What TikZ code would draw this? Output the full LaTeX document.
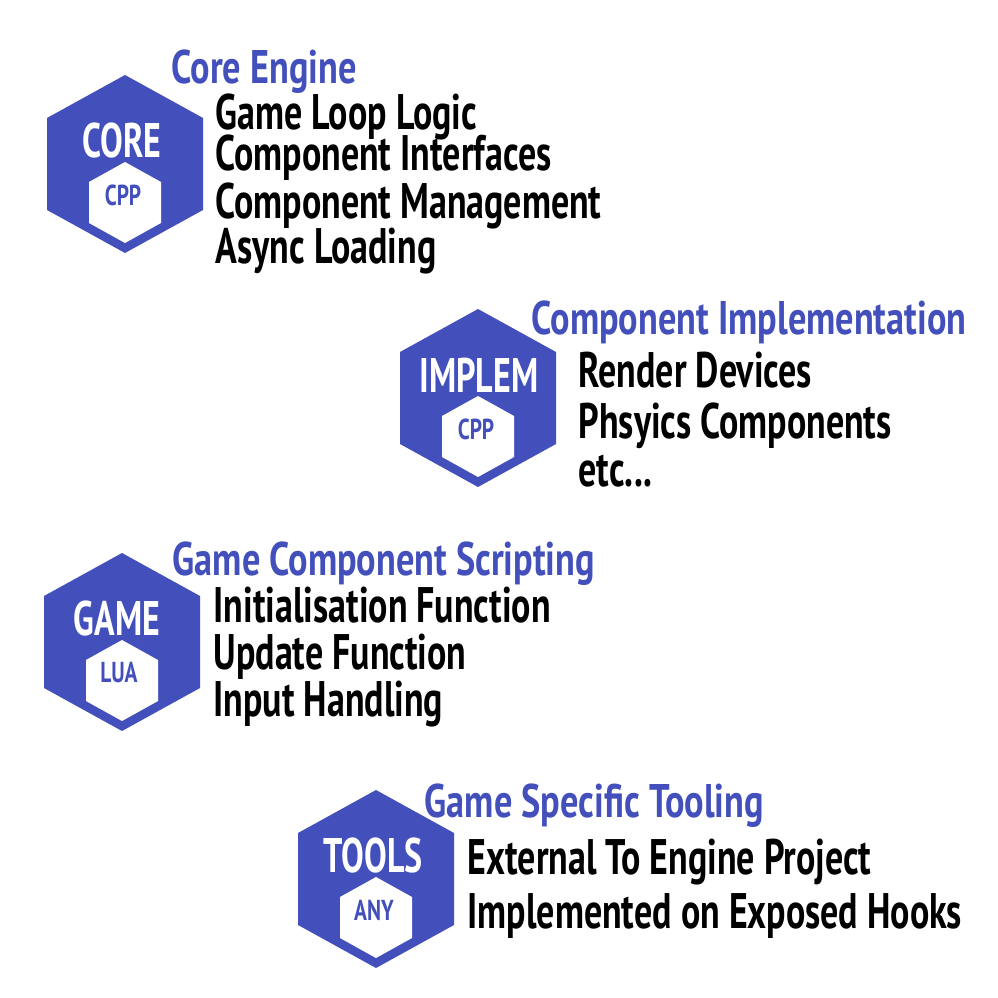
\documentclass[tikz,border=0pt]{standalone}
\usepackage{fontspec}
\newfontfamily\titlefont[FakeStretch=0.77]{PT Sans}
\newfontfamily\itemfont[FakeStretch=0.72]{PT Sans}
\newfontfamily\badgefont[FakeStretch=0.70]{PT Sans}
\newfontfamily\langfont[FakeStretch=0.74]{PT Sans}
\usetikzlibrary{positioning, calc}
\definecolor{hexblue}{RGB}{67,80,188}
\tikzstyle{title} = [text=hexblue, font=\titlefont\bfseries\fontsize{13.4}{13.4}\selectfont, anchor=base west, inner sep=0pt]
\tikzstyle{item} = [text=black, font=\itemfont\bfseries\fontsize{14.2}{14.2}\selectfont, anchor=base west, inner sep=0pt]
\tikzstyle{badge} = [text=white, font=\badgefont\bfseries\fontsize{13.8}{13.8}\selectfont, inner sep=0pt]
\tikzstyle{lang} = [text=hexblue, font=\langfont\bfseries\fontsize{8.2}{8.2}\selectfont, inner sep=0pt]
\newcommand{\hexmark}[7]{%
	\coordinate (#1) at (#2,#3);
	\fill[hexblue] ($(#1)+(0,89)$) -- ++(78,-43) -- ++(0,-92) -- ++(-78,-43) -- ++(-78,43) -- ++(0,92) -- cycle;
	\fill[white] ($(#1)+(0,2)$) -- ++(36,-20) -- ++(0,-41) -- ++(-36,-20) -- ++(-36,20) -- ++(0,41) -- cycle;
	\node[badge] (#1badge) at ($(#1)+(#6,23)$) {#4};
	\node[lang] (#1lang) at ($(#1)+(#7,-31)$) {#5};
}
\begin{document}
\begin{tikzpicture}[x=0.01cm,y=0.01cm]
	\useasboundingbox (0,0) rectangle (998,-998);
	\hexmark{core}{125}{-164}{CORE}{CPP}{-3}{-2}
	\hexmark{implem}{478}{-398}{IMPLEM}{CPP}{1}{-2}
	\hexmark{game}{122}{-642}{GAME}{LUA}{-5}{-3}
	\hexmark{tools}{376}{-879}{TOOLS}{ANY}{-3}{-2}
	\node[title] (coreTitle) at (171,-84) {Core Engine};
	\node[item] (core1) at (215,-130) {Game Loop Logic};
	\node[item] (core2) at (215,-171) {Component Interfaces};
	\node[item] (core3) at (215,-219) {Component Management};
	\node[item] (core4) at (215,-264) {Async Loading};
	\node[title] (implemTitle) at (531,-335) {Component Implementation};
	\node[item] (implem1) at (578,-388) {Render Devices};
	\node[item] (implem2) at (578,-439) {Phsyics Components};
	\node[item] (implem3) at (578,-487) {etc...};
	\node[title] (gameTitle) at (172,-575) {Game Component Scripting};
	\node[item] (game1) at (213,-622) {Initialisation Function};
	\node[item] (game2) at (213,-669) {Update Function};
	\node[item] (game3) at (213,-716) {Input Handling};
	\node[title] (toolsTitle) at (424,-817) {Game Specific Tooling};
	\node[item] (tools1) at (467,-874) {External To Engine Project};
	\node[item] (tools2) at (467,-928) {Implemented on Exposed Hooks};
\end{tikzpicture}
\end{document}
